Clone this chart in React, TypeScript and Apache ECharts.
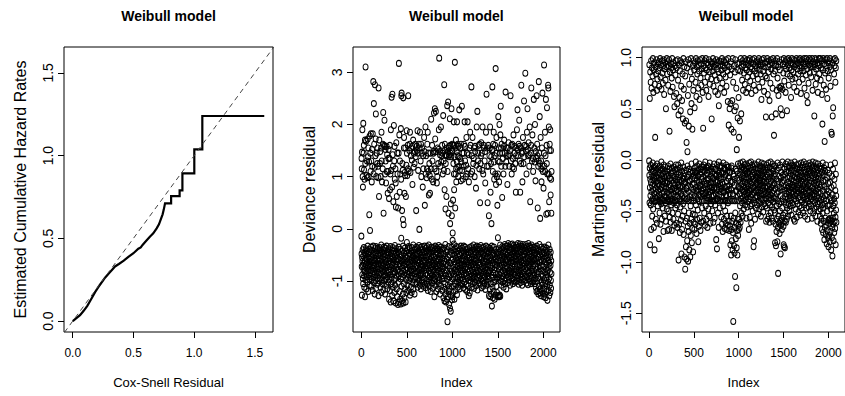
import React, { useEffect, useRef } from "react";
import * as echarts from "echarts";

// ---------- texts & ticks ----------
const panelTitle = "Weibull model";
const hazardXName = "Cox-Snell Residual";
const hazardYName = "Estimated Cumulative Hazard Rates";
const indexName = "Index";
const devianceName = "Deviance residual";
const martingaleName = "Martingale residual";
const hazardTicks = [0, 0.5, 1, 1.5];
const indexTicks = [0, 500, 1000, 1500, 2000];
const devianceTicks = [-1, 0, 1, 2, 3];
const martingaleTicks = [-1.5, -1, -0.5, 0, 0.5, 1];

// ---------- panel 1: Nelson-Aalen of Cox-Snell residuals (corners of the step curve) ----------
const coxSnell = [0, 0.03, 0.06, 0.09, 0.12, 0.15, 0.184, 0.22, 0.266, 0.3, 0.33, 0.348, 0.38, 0.42, 0.458, 0.5, 0.54, 0.56, 0.575, 0.609, 0.635, 0.663, 0.691, 0.71, 0.725, 0.74, 0.75, 0.76, 0.81, 0.81, 0.88, 0.88, 0.903, 0.903, 1.001, 1.001, 1.067, 1.067, 1.577];
const cumHazard = [0, 0.018, 0.036, 0.062, 0.092, 0.13, 0.175, 0.215, 0.262, 0.29, 0.315, 0.33, 0.345, 0.365, 0.388, 0.41, 0.437, 0.445, 0.46, 0.488, 0.51, 0.53, 0.56, 0.585, 0.615, 0.645, 0.675, 0.711, 0.711, 0.755, 0.755, 0.79, 0.79, 0.892, 0.892, 1.037, 1.037, 1.239, 1.239];
const referenceLine = [-0.2, 1.8]; // y = x

// ---------- panel 2: deviance residuals ----------
// events: [index, residual]
const devianceEvents = [
[5,1.15],[8,1.47],[12,1.9],[15,1.0],[18,0.8],[22,2.02],[25,1.45],[30,1.13],[35,0.95],[40,1.7],[47,3.1],[52,1.68],[58,1.02],[63,1.3],[70,1.72],[75,1.38],[80,1.0],[85,1.28],[88,0.27],[92,1.78],[96,-0.03],[99,1.45],
[105,1.82],[110,1.3],[115,0.9],[120,1.2],[126,1.82],[132,2.82],[138,2.4],[142,1.62],[148,1.18],[150,2.76],[155,1.4],[160,2.2],[165,1.0],[170,1.45],[178,1.55],[185,1.2],[190,2.7],[195,0.62],[198,1.7],
[205,1.25],[212,1.0],[218,1.55],[222,1.85],[228,0.9],[235,1.15],[241,2.23],[245,0.3],[250,1.6],[255,2.08],[262,1.05],[268,1.3],[272,0.88],[278,1.58],[284,1.42],[290,0.68],[295,1.1],[300,1.52],
[305,0.58],[310,1.35],[316,0.75],[320,1.05],[325,1.9],[333,2.52],[338,0.8],[342,2.58],[348,1.2],[352,0.52],[358,1.98],[362,1.3],[368,0.95],[375,1.15],[380,0.42],[385,1.65],[390,0.62],[395,1.45],
[405,0.4],[413,3.17],[418,1.8],[422,0.7],[428,1.05],[435,1.92],[440,2.55],[443,2.6],[448,0.35],[452,1.25],[458,0.18],[461,2.51],[465,0.08],[470,1.75],[474,0.68],[478,1.08],[484,1.55],[490,0.62],[495,1.22],[499,1.88],
[505,1.02],[510,1.6],[516,2.55],[520,1.1],[528,1.5],[535,1.85],[540,1.08],[548,1.55],[555,1.32],[562,0.85],[570,1.7],[578,1.45],[585,1.25],[592,1.62],[598,1.38],
[603,0.35],[610,1.5],[618,1.88],[625,1.12],[632,1.62],[638,-0.01],[645,1.85],[652,1.3],[660,1.0],[668,1.55],[675,0.8],[682,1.15],[690,1.75],[698,0.45],
[705,1.95],[712,1.4],[718,0.98],[725,1.62],[730,1.85],[738,1.1],[742,0.65],[748,1.25],[755,0.68],[760,1.45],[768,2.1],[775,0.95],[782,1.3],[790,0.9],[795,1.48],[799,2.22],
[808,2.3],[812,1.72],[819,2.25],[825,1.1],[830,0.88],[838,1.55],[845,1.25],[852,1.9],[856,3.27],[862,1.48],[868,1.2],[875,1.95],[882,1.4],[888,1.6],[895,1.05],[900,2.17],
[905,1.3],[911,2.76],[915,0.75],[920,1.5],[925,0.38],[930,1.42],[935,0.62],[940,1.55],[944,2.36],[948,1.1],[954,2.43],[958,0.3],[962,1.38],[967,1.58],[973,2.11],[976,0.1],[980,1.45],[984,0.48],[991,2.3],[995,0.25],[999,1.62],
[1004,-0.08],[1008,0.55],[1012,1.25],[1016,2.05],[1020,0.75],[1024,1.6],[1028,3.19],[1032,0.4],[1036,1.05],[1040,1.7],[1044,0.9],[1048,1.48],[1052,2.05],[1056,1.18],[1060,1.62],[1065,1.0],[1070,1.38],[1076,2.28],[1082,1.12],[1088,1.55],[1094,0.92],[1099,1.28],
[1105,2.35],[1110,1.45],[1116,0.95],[1122,1.2],[1128,1.62],[1135,2.05],[1140,1.3],[1148,1.0],[1155,1.75],[1162,1.45],[1168,2.05],[1175,1.15],[1182,0.9],[1190,1.55],[1196,1.85],
[1205,1.05],[1210,2.72],[1215,1.4],[1222,1.75],[1230,1.25],[1238,1.55],[1245,1.0],[1252,1.48],[1260,0.78],[1268,1.95],[1275,2.25],[1282,1.3],[1290,1.6],[1296,1.15],
[1305,0.5],[1310,1.25],[1318,1.65],[1325,1.45],[1332,1.95],[1340,1.05],[1348,1.55],[1355,1.3],[1362,0.88],[1370,1.85],[1376,2.58],[1382,1.2],[1388,0.5],[1395,1.6],
[1402,0.25],[1408,1.4],[1415,1.95],[1420,0.7],[1425,1.25],[1430,0.1],[1435,1.5],[1440,2.72],[1445,1.1],[1450,1.62],[1455,1.85],[1460,0.95],[1466,1.4],[1472,1.05],[1476,3.07],[1480,0.85],[1485,1.75],[1490,1.0],[1495,0.45],[1499,1.3],
[1505,2.15],[1510,1.55],[1514,0.9],[1518,2.0],[1522,1.45],[1528,1.8],[1532,2.35],[1538,1.2],[1542,1.62],[1548,0.6],[1555,1.35],[1562,1.05],[1570,1.7],[1578,1.45],[1585,2.62],[1592,1.28],[1598,1.55],
[1605,0.85],[1612,1.4],[1618,1.65],[1625,1.2],[1632,1.5],[1640,2.55],[1645,1.3],[1652,1.05],[1658,1.62],[1665,1.35],[1672,1.8],[1678,1.15],[1685,1.45],[1692,1.25],[1698,0.7],
[1705,1.55],[1710,1.9],[1716,2.28],[1722,1.4],[1728,1.62],[1735,2.08],[1740,1.3],[1746,0.7],[1752,1.55],[1758,2.75],[1764,1.45],[1770,0.9],[1776,1.75],[1782,1.25],[1788,2.45],[1795,1.6],
[1802,2.98],[1808,1.5],[1815,1.05],[1820,1.85],[1826,2.3],[1832,1.4],[1838,1.65],[1845,1.2],[1850,1.95],[1856,0.52],[1862,1.45],[1868,2.7],[1875,1.3],[1880,1.8],[1888,1.1],[1895,2.48],
[1902,1.55],[1908,2.0],[1914,0.92],[1920,1.35],[1926,2.55],[1932,1.62],[1938,0.4],[1944,1.2],[1950,2.82],[1955,1.45],[1960,2.15],[1965,0.2],[1970,1.75],[1975,1.3],[1980,0.9],[1985,1.55],[1990,2.6],[1995,1.1],
[2002,0.78],[2008,3.14],[2012,1.2],[2018,1.85],[2024,1.4],[2028,2.48],[2032,0.28],[2036,1.6],[2040,2.32],[2044,1.05],[2048,0.3],[2052,2.75],[2055,2.7],[2060,1.95],[2064,0.52],[2068,1.5],[2072,0.98],[2076,1.9],[2080,0.65],[2084,1.5],[2088,0.3],[2090,1.1],
[3,1.35],[28,1.6],[44,1.25],[66,0.98],[78,1.55],[102,1.1],[118,1.52],[135,1.05],[158,1.72],[175,1.25],[188,0.98],[208,1.48],[225,1.3],[238,1.62],[258,1.58],[265,1.52],[281,1.1],[298,1.35],[313,1.6],[328,1.12],[345,1.42],[365,1.58],[378,0.88],[398,1.05],[410,1.45],[425,1.3],[438,0.95],[455,1.12],[468,1.55],[482,1.02],
[502,1.45],[513,1.15],[532,1.62],[545,1.4],[560,1.58],[575,1.18],[590,1.48],[608,1.58],[622,1.45],[640,1.55],[656,1.62],[664,1.45],[680,1.4],[695,1.48],[708,1.05],[722,1.15],[735,1.45],[752,1.02],[765,1.15],[778,1.6],[792,1.45],[805,1.15],[822,1.48],[835,1.0],[848,1.52],[865,1.42],[878,1.28],[892,1.45],[908,1.12],[918,1.62],
[928,1.25],[938,1.4],[950,1.48],[960,1.55],[970,1.42],[978,1.6],[988,1.38],[997,1.5],[1002,1.48],[1010,1.6],[1018,1.05],[1026,1.38],[1034,1.55],[1042,1.15],[1050,1.28],[1058,1.4],[1067,1.58],[1074,1.2],[1085,1.35],[1096,1.62],[1108,1.12],[1125,1.45],[1138,1.58],[1152,1.22],[1165,1.05],[1180,1.42],[1200,1.6],[1218,1.1],[1235,1.35],[1250,1.58],
[1265,1.22],[1285,1.45],[1300,1.62],[1315,1.4],[1330,1.12],[1345,1.6],[1360,1.48],[1380,1.55],[1398,1.2],[1412,1.55],[1428,1.38],[1442,1.52],[1458,1.28],[1470,1.6],[1488,1.45],[1502,1.05],[1520,1.28],[1535,1.55],[1550,1.45],[1568,1.58],[1582,1.2],[1595,1.4],[1610,1.55],[1628,1.42],[1648,1.6],[1662,1.18],[1682,1.58],[1700,1.4],[1718,1.52],[1738,1.58],
[1755,1.25],[1772,1.48],[1790,1.38],[1812,1.58],[1830,1.52],[1848,1.42],[1866,1.6],[1885,1.35],[1905,1.28],[1918,1.48],[1935,1.4],[1948,1.3],[1962,1.25],[1978,1.15],[1992,1.2],[2006,1.45],[2020,1.1],[2038,1.25],[2058,1.05],[2070,1.62],[2086,0.95]
];
// censored observations, listed in index order (every 2nd index: 1, 3, 5, ...)
const devianceCensored = [
-.14,-.48,-.72,-1.27,-.55,-.88,-.62,-.40,-.95,-.70,-1.05,-.52,-.78,-.36,-.66,-.90,-1.12,-.45,-.82,-.60,-1.30,-.74,-.50,-.98,-.38,-.68,-.85,-1.15,-.57,-.42,-.92,-.76,-.64,-1.02,-.48,-.33,-.80,-.70,-1.20,-.55,-.88,-.45,-.62,-.96,-.73,-.39,-1.08,-.58,-.84,-.67,
-.44,-.91,-.63,-.35,-.79,-1.10,-.54,-.71,-.97,-.41,-.86,-.60,-1.18,-.50,-.75,-.33,-.93,-.65,-.47,-1.03,-.82,-.56,-.70,-1.25,-.38,-.88,-.61,-.99,-.46,-.77,-.34,-1.14,-.68,-.52,-.90,-.74,-.42,-1.06,-.59,-.83,-.37,-.95,-.66,-.49,-1.28,-.72,-.57,-.87,-.40,-1.00,
-.62,-.36,-.94,-.78,-.51,-1.12,-.43,-.69,-.85,-.31,-1.22,-.58,-.76,-.98,-.45,-.64,-1.05,-.39,-.82,-.55,-.72,-1.17,-.48,-.90,-.35,-.67,-1.00,-.53,-.80,-.42,-1.25,-.60,-.88,-.37,-.74,-.96,-.50,-1.08,-.63,-.33,-.84,-.70,-1.15,-.46,-.92,-.57,-.79,-.40,-1.02,-.66,
-.45,-.83,-1.35,-.61,-.38,-.97,-.72,-1.18,-.52,-.88,-.34,-1.40,-.66,-.79,-.47,-1.05,-.58,-.93,-.41,-1.28,-.70,-.55,-1.12,-.36,-.86,-.64,-1.38,-.49,-.76,-.99,-.43,-1.22,-.60,-.82,-.32,-1.08,-.68,-.53,-.95,-1.42,-.46,-.74,-.89,-.38,-1.15,-.63,-.51,-1.30,-.80,-.57,
-.44,-1.45,-.77,-.59,-1.02,-.35,-.90,-1.40,-.67,-.48,-1.20,-.83,-.39,-1.35,-.72,-.55,-.96,-1.44,-.62,-.18,-.86,-1.10,-.50,-.75,-1.38,-.42,-.92,-.65,-1.25,-.33,-.81,-1.42,-.58,-.70,-1.05,-.46,-1.32,-.88,-.61,-.37,-1.15,-.79,-.53,-1.40,-.68,-.97,-.43,-1.22,-.74,-.56,
-.26,-.85,-.63,-1.08,-.40,-.76,-.93,-.52,-1.18,-.34,-.69,-.88,-.47,-1.00,-.58,-.81,-.37,-1.27,-.64,-.73,-.50,-.95,-1.12,-.43,-.78,-.60,-1.22,-.36,-.90,-.55,-.71,-1.03,-.46,-.84,-.62,-.31,-1.15,-.77,-.53,-.97,-.41,-.67,-1.25,-.59,-.86,-.39,-.74,-1.06,-.49,-.82,
-.57,-.92,-.35,-.70,-1.04,-.48,-.83,-.61,-.38,-1.12,-.75,-.53,-.96,-.42,-.66,-.88,-.32,-1.00,-.59,-.79,-.45,-1.08,-.63,-.36,-.90,-.72,-.50,-1.15,-.40,-.85,-.68,-.55,-.98,-.34,-.77,-1.02,-.46,-.62,-.87,-.39,-1.10,-.71,-.52,-.94,-.44,-.80,-.60,-.33,-1.06,-.74,
-.49,-.86,-.65,-1.13,-.37,-.78,-.56,-.99,-.43,-.70,-1.06,-.34,-.89,-.60,-.52,-1.18,-.75,-.41,-.95,-.64,-.31,-1.02,-.81,-.47,-.69,-1.10,-.38,-.91,-.58,-.76,-.45,-1.20,-.62,-.84,-.35,-.97,-.54,-.73,-1.04,-.42,-.88,-.66,-.50,-1.14,-.79,-.36,-.93,-.61,-.70,-1.00,
-.55,-1.30,-.82,-.40,-.96,-.67,-.33,-1.08,-.74,-.51,-.89,-.44,-1.20,-.63,-.78,-.36,-1.01,-.57,-.85,-.47,-.71,-1.15,-.39,-.93,-.60,-.32,-1.05,-.80,-.53,-.68,-.98,-.42,-1.25,-.75,-.58,-.87,-.35,-.64,-1.10,-.49,-.83,-.72,-.41,-.95,-1.18,-.56,-.77,-.38,-.90,-.66,
-.48,-1.32,-.73,-.95,-.37,-1.12,-.62,-1.38,-.85,-.52,-1.05,-.30,-1.25,-.68,-.90,-1.40,-.44,-.79,-1.18,-.58,-1.35,-.97,-.40,-1.78,-.71,-1.08,-.55,-1.30,-.86,-.34,-1.20,-.64,-1.45,-.92,-.50,-1.15,-.76,-1.52,-.43,-1.02,-.66,-1.58,-.88,-1.28,-.60,-.35,-1.10,-.81,-1.36,-.47,
-1.30,-.22,-.96,-.58,-1.22,-.74,-.41,-1.10,-.29,-.87,-.63,-1.35,-.50,-.80,-1.05,-.38,-.92,-.69,-1.18,-.45,-.77,-.56,-1.00,-.34,-.84,-1.26,-.61,-.72,-.43,-.95,-1.12,-.53,-.82,-.36,-1.03,-.66,-.48,-.89,-.59,-1.15,-.40,-.75,-.98,-.51,-.68,-1.08,-.33,-.86,-.62,-.79,
-.46,-.93,-.70,-1.05,-.37,-.81,-.57,-.99,-.42,-.74,-1.13,-.61,-.33,-.88,-.52,-1.02,-.67,-.44,-.96,-.78,-.35,-1.16,-.59,-.85,-.48,-.72,-1.07,-.40,-.90,-.63,-.54,-1.20,-.77,-.38,-.94,-.66,-.50,-1.10,-.83,-.45,-1.28,-.69,-.56,-.98,-.36,-1.23,-.80,-.60,-.92,-.43,
-.71,-1.00,-.47,-.86,-.34,-.64,-1.12,-.55,-.79,-.41,-.95,-.68,-1.05,-.38,-.83,-.58,-.31,-.91,-.73,-1.14,-.50,-.87,-.62,-.44,-1.02,-.76,-.36,-.97,-.57,-.69,-1.09,-.45,-.84,-.60,-.33,-.93,-.74,-.52,-1.17,-.40,-.80,-.65,-.99,-.48,-.88,-.35,-1.04,-.70,-.54,-.82,
-.39,-.90,-.66,-1.06,-.47,-.78,-.32,-.97,-.59,-.84,-1.13,-.43,-.72,-.55,-1.01,-.37,-.88,-.64,-.49,-1.10,-.76,-.35,-.94,-.61,-.81,-.45,-1.04,-.68,-.52,-.92,-.40,-1.16,-.74,-.57,-.86,-.33,-.99,-.63,-.48,-1.08,-.79,-.42,-.91,-.67,-.54,-1.02,-.36,-.85,-.70,-.46,
-.83,-1.28,-.44,-.96,-.62,-1.15,-.37,-.80,-1.30,-.55,-.71,-1.05,-.41,-1.25,-.89,-.58,-.33,-1.48,-.75,-.50,-1.12,-.66,-.93,-1.32,-.46,-.84,-.60,-1.20,-.35,-.78,-1.02,-.53,-1.35,-.69,-.42,-.98,-.74,-1.27,-.57,-.88,-.39,-1.10,-.64,-.48,-.95,-1.22,-.70,-.52,-.86,-1.30,
-.17,-.61,-.92,-.45,-1.28,-.77,-.38,-1.30,-.66,-.88,-1.27,-.52,-.31,-1.29,-.73,-1.00,-.49,-.84,-.60,-1.08,-.40,-.95,-.70,-.55,-.34,-1.02,-.80,-.47,-.63,-.91,-.36,-1.12,-.68,-.53,-.86,-.42,-.99,-.75,-.30,-1.05,-.59,-.82,-.45,-.94,-.65,-.33,-1.15,-.72,-.50,-.89,
-.58,-.87,-.33,-.74,-.46,-1.03,-.62,-.28,-.92,-.53,-.80,-.40,-.97,-.69,-.35,-.85,-.56,-1.08,-.44,-.76,-.30,-.90,-.64,-.50,-1.00,-.38,-.82,-.60,-.72,-.29,-.95,-.48,-.67,-1.05,-.42,-.86,-.55,-.32,-.78,-.99,-.45,-.63,-.88,-.36,-.71,-.52,-1.02,-.40,-.83,-.59,
-.31,-.77,-.52,-.94,-.43,-.68,-1.00,-.36,-.84,-.60,-.28,-.90,-.47,-.73,-1.06,-.55,-.33,-.81,-.64,-.97,-.41,-.70,-.29,-.88,-.57,-1.03,-.45,-.79,-.62,-.34,-.93,-.50,-.75,-1.08,-.39,-.86,-.66,-.30,-.96,-.53,-.72,-.44,-1.01,-.61,-.35,-.83,-.49,-.91,-.68,-.38,
-.76,-.42,-.98,-.58,-.30,-.87,-.65,-1.04,-.46,-.73,-.34,-.92,-.55,-.80,-.39,-1.07,-.62,-.28,-.85,-.51,-.96,-.70,-.44,-.83,-.33,-1.00,-.59,-.74,-.48,-.90,-.37,-.67,-1.05,-.53,-.81,-.31,-.94,-.63,-.45,-.78,-1.02,-.40,-.71,-.56,-.88,-.35,-.99,-.60,-.47,-.84,
-.52,-.89,-.36,-1.05,-.68,-.45,-.95,-.61,-1.12,-.40,-.78,-.57,-1.20,-.33,-.86,-.66,-1.00,-.48,-1.18,-.73,-.38,-.93,-1.25,-.55,-.82,-.42,-1.10,-.64,-.30,-1.22,-.76,-.50,-.97,-1.15,-.44,-.70,-1.28,-.59,-.87,-.35,-1.03,-.62,-1.20,-.47,-.80,-1.08,-.54,-.91,-1.24,-.39,
-.72,-1.30,-.46,-.98,-1.15,-.58,-.35,-1.25,-.84,-.63,-1.05,-.41,-1.32,-.77,-.52,-.93,-1.20,-.37,-.69,-1.10,-.56,-.88,-1.37,-.44,-.80,-1.02,-.60,-.31,-1.18,-.74,-.49,-.95,-1.28,-.66,-.39,-1.08,-.83,-.54,-1.22,-.70,-.45,-.99,-1.14,-.61,-.86
];

// ---------- panel 3: martingale residuals ----------
// events, in index order (every 5th index: 3, 8, 13, ...)
const martingaleEvents = [
.93,.60,.86,.76,.97,.70,.90,.82,.99,.66,.88,.95,.74,.22,.91,.84,.98,.68,.79,.94,
.87,.96,.72,.90,.99,.81,.93,.69,.97,.85,.75,.92,.98,.64,.89,.95,.78,.50,.91,.99,
.84,.96,.73,.92,.98,.28,.86,.67,.94,.90,.80,.99,.71,.88,.95,.62,.52,.92,.83,.97,
.65,.90,.55,.98,.78,.44,.93,.61,.87,.97,.48,.72,.95,.58,.84,.40,.99,.69,.91,.36,
.82,.96,.38,.17,.90,.08,.63,.98,.33,.74,.94,.47,.86,.99,.55,.79,.30,.92,.68,.97,
.88,.51,.95,.76,.99,.62,.91,.84,.97,.70,.93,.87,.59,.98,.80,.94,.73,.89,.99,.66,
.31,.92,.85,.97,.76,.90,.99,.68,.88,.95,.81,.93,.62,.98,.86,.74,.91,.96,.79,.40,
.94,.87,.99,.72,.91,.96,.83,.67,.93,.98,.78,.89,.95,.64,.86,.53,.97,.80,.92,.70,
.96,.88,.99,.75,.92,.84,.97,.66,.90,.95,.81,.98,.72,.93,.87,.57,.99,.34,.91,.50,
.83,.55,.96,.30,.89,.58,.99,.76,.27,.92,.48,.86,.98,.52,.70,.10,.94,.41,.88,.61,
.22,.95,.38,.87,.99,.45,.91,.78,.97,.68,.93,.85,.99,.74,.90,.96,.66,.88,.98,.81,
.93,.70,.97,.86,.99,.77,.91,.95,.65,.89,.98,.82,.94,.73,.99,.87,.92,.68,.96,.84,
.90,.97,.79,.93,.99,.71,.88,.96,.84,.92,.59,.98,.76,.94,.87,.99,.67,.91,.95,.82,
.42,.96,.80,.99,.64,.91,.86,.97,.58,.93,.75,.98,.89,.42,.95,.70,.99,.84,.24,.92,
.87,.97,.45,.93,.68,.99,.80,.91,.63,.96,.71,.88,.70,.50,.72,.98,.44,.69,.94,.85,
.99,.77,.92,.96,.66,.89,.98,.48,.84,.93,.99,.73,.90,.97,.82,.95,.61,.88,.99,.79,
.94,.86,.98,.71,.91,.97,.80,.93,.99,.67,.89,.95,.84,.98,.76,.92,.99,.87,.65,.96,
.90,.98,.79,.94,.87,.99,.70,.92,.96,.83,.99,.63,.89,.56,.97,.75,.93,.99,.85,.91,
.97,.81,.94,.99,.68,.91,.96,.86,.43,.93,.99,.74,.89,.98,.80,.95,.66,.92,.99,.84,
.93,.99,.78,.90,.97,.64,.35,.88,.99,.73,.94,.18,.85,.98,.69,.92,.99,.60,.87,.95,
.80,.97,.91,.99,.72,.88,.27,.25,.95,.43,.51,.98,.84,.92,.99,.76,.90,.97
];
// censored observations, in index order (every 2nd index: 1, 3, 5, ...)
const martingaleCensored = [
-.01,-.15,-.42,-.08,-.27,-.83,-.19,-.35,-.05,-.44,-.22,-.68,-.12,-.31,-.40,-.09,-.25,-.55,-.16,-.38,-.03,-.29,-.48,-.11,-.20,-.40,-.66,-.07,-.33,-.18,-.88,-.24,-.41,-.13,-.37,-.06,-.28,-.58,-.17,-.40,-.10,-.32,-.21,-.62,-.04,-.36,-.26,-.14,-.45,-.23,
-.30,-.08,-.40,-.18,-.77,-.12,-.34,-.25,-.52,-.06,-.41,-.20,-.29,-.63,-.10,-.37,-.15,-.43,-.02,-.27,-.40,-.58,-.19,-.33,-.09,-.24,-.47,-.13,-.39,-.21,-.70,-.05,-.31,-.17,-.40,-.26,-.11,-.55,-.35,-.22,-.07,-.42,-.28,-.60,-.14,-.36,-.40,-.23,-.48,-.16,
-.32,-.12,-.40,-.69,-.21,-.06,-.38,-.27,-.50,-.15,-.34,-.68,-.09,-.41,-.24,-.56,-.18,-.30,-.40,-.04,-.61,-.26,-.13,-.44,-.35,-.20,-.69,-.08,-.39,-.29,-.52,-.16,-.40,-.11,-.33,-.58,-.23,-.07,-.42,-.28,-.64,-.17,-.36,-.40,-.10,-.25,-.47,-.19,-.31,-.05,
-.40,-.14,-.62,-.29,-.09,-.44,-.22,-.66,-.35,-.17,-.25,-.53,-.05,-.31,-.98,-.24,-.12,-.63,-.38,-.20,-.40,-.71,-.08,-.27,-.46,-.15,-.33,-.59,-.33,-.03,-.92,-.21,-.40,-.68,-.11,-.36,-.26,-.55,-.18,-.43,-.07,-.30,-.73,-.19,-.16,-.50,-.23,-.95,-.37,-.13,
-.40,-1.07,-.22,-.60,-.33,-.85,-.10,-.28,-.97,-.28,-.57,-.17,-.79,-.38,-.06,-.65,-.25,-.99,-.40,-.14,-.70,-.31,-.52,-.09,-.88,-.21,-.20,-.62,-.36,-.95,-.12,-.45,-.74,-.27,-.40,-.58,-.04,-.34,-.81,-.19,-.67,-.13,-.24,-.53,-.11,-.90,-.37,-.29,-.61,-.15,
-.40,-.23,-.68,-.08,-.35,-.54,-.18,-.12,-.63,-.27,-.02,-.44,-.13,-.30,-.72,-.31,-.20,-.58,-.06,-.38,-.16,-.49,-.16,-.29,-.80,-.10,-.40,-.65,-.34,-.22,-.04,-.41,-.57,-.14,-.25,-.26,-.69,-.09,-.36,-.07,-.19,-.61,-.30,-.12,-.40,-.47,-.24,-.07,-.33,-.33,
-.17,-.10,-.60,-.28,-.05,-.40,-.21,-.52,-.35,-.11,-.24,-.64,-.26,-.02,-.33,-.45,-.15,-.32,-.40,-.58,-.08,-.23,-.13,-.37,-.13,-.66,-.19,-.29,-.06,-.40,-.48,-.19,-.34,-.07,-.10,-.55,-.25,-.31,-.03,-.40,-.31,-.62,-.16,-.22,-.22,-.43,-.09,-.27,-.36,-.27,
-.40,-.12,-.50,-.30,-.18,-.07,-.24,-.35,-.61,-.18,-.40,-.35,-.04,-.28,-.27,-.57,-.14,-.09,-.44,-.21,-.40,-.09,-.33,-.15,-.78,-.16,-.38,-.29,-.87,-.05,-.22,-.38,-.20,-.40,-.52,-.11,-.30,-.26,-.66,-.02,-.13,-.34,-.15,-.40,-.47,-.23,-.06,-.08,-.31,-.25,
-.19,-.40,-.56,-.28,-.12,-.06,-.63,-.36,-.22,-.13,-.70,-.24,-.40,-.45,-.03,-.31,-.32,-.58,-.17,-.08,-.09,-.67,-.40,-.27,-.50,-.15,-.14,-.62,-.34,-.35,-.05,-.68,-.40,-.21,-.55,-.26,-.11,-.30,-.64,-.07,-.42,-.18,-.40,-.60,-.07,-.29,-.25,-.69,-.12,-.33,
-.40,-.65,-.12,-.83,-.21,-.55,-.29,-.93,-.08,-.68,-.06,-.79,-.40,-.60,-.22,-.88,-.33,-.71,-.35,-1.58,-.14,-.57,-.16,-.84,-.40,-.66,-.91,-.25,-.19,-1.14,-.52,-.40,-.09,-.77,-.62,-.30,-1.25,-.31,-.86,-.11,-.69,-.18,-.93,-.40,-.58,-.04,-.74,-.26,-.64,-.27,
-.68,-.20,-.58,-.06,-.33,-.66,-.14,-.45,-.28,-.03,-.61,-.38,-.10,-.24,-.52,-.17,-.35,-.07,-.42,-.29,-.13,-.55,-.21,-.02,-.37,-.15,-.31,-.48,-.09,-.26,-.40,-.18,-.05,-.34,-.22,-.44,-.11,-.30,-.04,-.39,-.19,-.27,-.57,-.08,-.36,-.14,-.23,-.46,-.32,-.12,
-.25,-.06,-.41,-.18,-.33,-.11,-.68,-.29,-.03,-.38,-.21,-.56,-.14,-.31,-.08,-.45,-.24,-.36,-.02,-.62,-.17,-.28,-.43,-.10,-.34,-.05,-.22,-.50,-.15,-.39,-.27,-.07,-.85,-.19,-.32,-.79,-.12,-.42,-.26,-.04,-.58,-.20,-.37,-.09,-.30,-.47,-.16,-.23,-.35,-.13,
-.05,-.29,-.44,-.17,-.36,-.09,-.24,-.53,-.13,-.32,-.02,-.40,-.20,-.27,-.48,-.08,-.35,-.15,-.23,-.42,-.06,-.30,-.18,-.55,-.11,-.38,-.25,-.03,-.33,-.46,-.14,-.21,-.39,-.07,-.28,-.16,-.51,-.10,-.34,-.22,-.04,-.43,-.19,-.31,-.12,-.37,-.26,-.08,-.45,-.17,
-.33,-.10,-.60,-.22,-.38,-.05,-.28,-.47,-.15,-.35,-.58,-.08,-.26,-.42,-.19,-.03,-.31,-.55,-.12,-.37,-.24,-.61,-.07,-.29,-.44,-.17,-.34,-.02,-.52,-.21,-.39,-.13,-.27,-.57,-.09,-.32,-.46,-.18,-.04,-.36,-.25,-.60,-.11,-.30,-.41,-.16,-.06,-.49,-.23,-.38,
-.14,-.52,-.81,-.28,-.06,-.63,-.37,-.84,-.19,-.45,-.70,-.10,-.33,-.58,-.24,-.80,-.03,-.40,-.66,-1.11,-.21,-.55,-.31,-.08,-.62,-.43,-.16,-.72,-.27,-.50,-.05,-.60,-.35,-.92,-.18,-.64,-.41,-.12,-.57,-.29,-.68,-.22,-.47,-.02,-.61,-.38,-.15,-.54,-.26,-.65,
-.83,-.20,-.85,-.41,-.09,-.60,-.30,-.86,-.14,-.52,-.36,-.04,-.61,-.25,-.44,-.12,-.33,-.58,-.07,-.28,-.47,-.18,-.38,-.02,-.55,-.22,-.31,-.11,-.43,-.26,-.06,-.35,-.50,-.16,-.29,-.40,-.08,-.23,-.45,-.13,-.37,-.03,-.32,-.54,-.19,-.27,-.10,-.42,-.24,-.05,
-.34,-.15,-.27,-.44,-.06,-.31,-.21,-.58,-.11,-.38,-.25,-.02,-.60,-.17,-.35,-.08,-.29,-.48,-.13,-.40,-.22,-.05,-.33,-.56,-.18,-.26,-.09,-.43,-.30,-.14,-.37,-.04,-.24,-.51,-.19,-.32,-.10,-.28,-.45,-.16,-.36,-.07,-.23,-.54,-.12,-.39,-.20,-.03,-.30,-.47,
-.16,-.29,-.08,-.41,-.22,-.34,-.05,-.26,-.52,-.13,-.37,-.19,-.02,-.31,-.44,-.10,-.24,-.36,-.07,-.55,-.17,-.28,-.42,-.12,-.33,-.04,-.21,-.47,-.15,-.38,-.27,-.09,-.35,-.58,-.18,-.25,-.06,-.40,-.30,-.14,-.46,-.11,-.23,-.32,-.03,-.43,-.20,-.36,-.09,-.50,
-.26,-.12,-.38,-.05,-.45,-.21,-.31,-.15,-.57,-.08,-.34,-.27,-.02,-.40,-.18,-.52,-.11,-.29,-.36,-.06,-.23,-.48,-.14,-.33,-.09,-.42,-.20,-.55,-.03,-.30,-.17,-.39,-.25,-.07,-.46,-.13,-.35,-.22,-.60,-.10,-.28,-.04,-.43,-.19,-.32,-.50,-.16,-.37,-.24,-.08,
-.41,-.14,-.55,-.27,-.06,-.48,-.33,-.62,-.18,-.39,-.09,-.58,-.25,-.44,-.68,-.12,-.36,-.52,-.03,-.30,-.71,-.21,-.47,-.15,-.60,-.38,-.08,-.78,-.26,-.43,-.66,-.11,-.35,-.57,-.20,-.73,-.05,-.40,-.64,-.29,-.82,-.17,-.50,-.34,-.69,-.10,-.45,-.76,-.23,-.59,
-.85,-.31,-.58,-.74,-.13,-.62,-.44,-.80,-.22,-.57,-.37,-.70,-.05,-.60,-.48,-.88,-.27,-.59,-.40,-.76,-.16,-.66,-.94,-.34,-.57,-.09,-.63,-.45,-.79,-.25,-.52,-.38,-.71,-.19,-.60,-.42,-.03,-.67,-.30,-.56,-.83,-.14,-.49,-.35,-.61
];

const FONT = "'Liberation Sans', Arial, Helvetica, sans-serif";
const INK = "#000";
// R's open circle (pch = 1), slightly taller than wide like the reference
const OPEN_CIRCLE = "path://M1,0A1,1,0,1,1,-1,0A1,1,0,1,1,1,0Z";

function xAxis(gridIndex: number, min: number, max: number, ticks: number[], fmt: (v: number) => string, name: string) {
  return {
    type: "value", gridIndex, min, max, name,
    nameLocation: "middle", nameGap: 44,
    nameTextStyle: { fontSize: 13, color: INK, fontFamily: FONT },
    splitLine: { show: false },
    axisLine: { show: false, onZero: false },
    axisTick: { show: true, length: 6, customValues: ticks, lineStyle: { color: INK, width: 1 } },
    axisLabel: { show: true, customValues: ticks, formatter: fmt, margin: 15, fontSize: 12, color: INK, fontFamily: FONT },
  };
}
function yAxis(gridIndex: number, min: number, max: number, ticks: number[], fmt: (v: number) => string, name: string) {
  return {
    type: "value", gridIndex, min, max, name,
    nameLocation: "middle", nameGap: 36,
    nameTextStyle: { fontSize: 16, color: INK, fontFamily: FONT },
    splitLine: { show: false },
    axisLine: { show: false, onZero: false },
    axisTick: { show: true, length: 6, customValues: ticks, lineStyle: { color: INK, width: 1 } },
    axisLabel: { show: true, customValues: ticks, formatter: fmt, rotate: 90, margin: 9, fontSize: 14, color: INK, fontFamily: FONT },
  };
}
const fmt1 = (v: number) => v.toFixed(1);
const fmt0 = (v: number) => String(Math.round(v));

function scatter(axis: number, data: number[][]) {
  return {
    type: "scatter", xAxisIndex: axis, yAxisIndex: axis, data,
    symbol: OPEN_CIRCLE, symbolSize: [5, 6], silent: true, large: false,
    itemStyle: { color: "rgba(0,0,0,0)", borderColor: INK, borderWidth: 1, opacity: 1 },
  };
}

export default function App() {
  const ref = useRef<HTMLDivElement>(null);
  useEffect(() => {
    if (!ref.current) return;
    const chart = echarts.init(ref.current, undefined, { renderer: "svg" });
    const stepData = coxSnell.map((x, i) => [x, cumHazard[i]]);
    const refData = referenceLine.map((v) => [v, v]);
    const devCe = devianceCensored.map((v, i) => [1 + 2 * i, v]);
    const marEv = martingaleEvents.map((v, i) => [3 + 5 * i, v]);
    const marCe = martingaleCensored.map((v, i) => [1 + 2 * i, v]);
    const gridBase = { show: true, borderColor: INK, borderWidth: 1, backgroundColor: "transparent", containLabel: false };
    chart.setOption({
      animation: false,
      backgroundColor: "#fff",
      title: [168.5, 456.4, 746].map((x) => ({
        text: panelTitle, left: x, top: 9, padding: 0, textAlign: "center",
        textStyle: { fontSize: 14, fontWeight: "bold", color: INK, fontFamily: FONT },
      })),
      grid: [
        { ...gridBase, left: 64, top: 47, width: 209, height: 285 },
        { ...gridBase, left: 353, top: 47, width: 207, height: 285 },
        { ...gridBase, left: 642, top: 47, width: 208, height: 285 },
      ],
      xAxis: [
        xAxis(0, -0.072, 1.649, hazardTicks, fmt1, hazardXName),
        xAxis(1, -91, 2183, indexTicks, fmt0, indexName),
        xAxis(2, -79, 2185, indexTicks, fmt0, indexName),
      ],
      yAxis: [
        yAxis(0, -0.066, 1.656, hazardTicks, fmt1, hazardYName),
        yAxis(1, -1.976, 3.484, devianceTicks, fmt0, devianceName),
        yAxis(2, -1.683, 1.104, martingaleTicks, fmt1, martingaleName),
      ],
      series: [
        {
          type: "line", xAxisIndex: 0, yAxisIndex: 0, data: stepData,
          symbol: "none", silent: true, lineStyle: { color: INK, width: 2.2, join: "miter" },
        },
        {
          type: "line", xAxisIndex: 0, yAxisIndex: 0, data: refData,
          symbol: "none", silent: true, lineStyle: { color: "#444", width: 1, type: [5, 4] },
        },
        scatter(1, devianceEvents),
        scatter(1, devCe),
        scatter(2, marEv),
        scatter(2, marCe),
      ],
    });
    return () => chart.dispose();
  }, []);
  return <div ref={ref} style={{ position: "absolute", left: 0, top: 0, width: 845, height: 396 }} />;
}
